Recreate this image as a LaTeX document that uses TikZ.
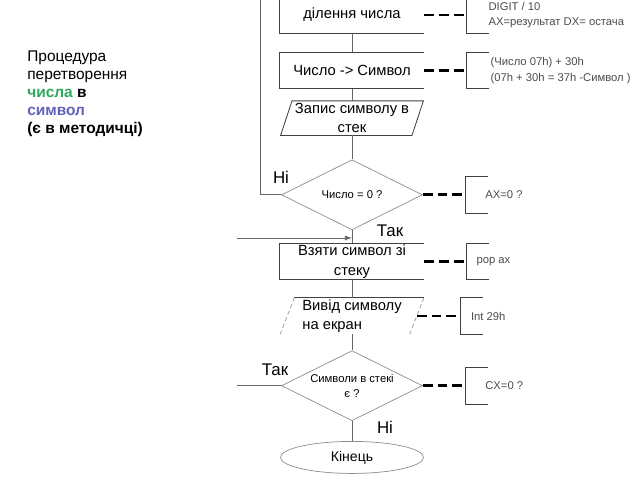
\documentclass[tikz,border=0pt]{standalone}
\usepackage{fontspec}
\setmainfont{Liberation Sans}
\usepackage{xcolor}
\definecolor{numgreen}{RGB}{46,168,92}
\definecolor{symblue}{RGB}{98,98,190}
\usetikzlibrary{positioning,calc,shapes.geometric,arrows.meta}

\begin{document}
\begin{tikzpicture}[x=0.025cm,y=-0.025cm,
	line/.style={draw=black!60,line width=0.5pt},
	frame/.style={draw=black!75,line width=0.6pt},
	blok/.style={minimum width=3.6cm,minimum height=0.9cm,inner sep=0pt,align=center,font=\fontsize{10.5}{14}\selectfont},
	io/.style={trapezium,trapezium left angle=70,trapezium right angle=110,trapezium stretches=true,minimum width=3.575cm,minimum height=0.85cm,inner sep=0pt,align=center,font=\fontsize{10.5}{13.5}\selectfont},
	cond/.style={diamond,aspect=2,draw=black!45,line width=0.5pt,minimum width=3.525cm,minimum height=1.75cm,inner sep=0pt,align=center,font=\fontsize{8}{10.5}\selectfont},
	term/.style={ellipse,draw=black!45,line width=0.5pt,minimum width=3.575cm,minimum height=0.8cm,inner sep=0pt,font=\fontsize{10}{12}\selectfont},
	brk/.style={minimum width=0.55cm,minimum height=0.9cm,inner sep=0pt},
	note/.style={inner sep=0pt,align=left,text=black!70,font=\fontsize{8}{11}\selectfont},
	dashln/.style={line width=2pt,dash pattern=on 7pt off 3.5pt},
	lbl/.style={inner sep=0pt,font=\fontsize{12}{14}\selectfont}]
	\useasboundingbox (0,0) rectangle (640,480);
	%
	\node[anchor=north west,inner sep=0pt,align=left,font=\fontsize{11}{12.8}\selectfont] (title) at (27,51)
		{Процедура\\перетворення\\\textbf{\textcolor{numgreen}{числа} в}\\\textbf{\textcolor{symblue}{символ}}\\\textbf{(є в методичці)}};
	%
	\node[blok] (d1) at (352,15) {ділення числа};
	\node[blok,below=0.475cm of d1] (d2) {Число -> Символ};
	\node[io,below=0.3cm of d2] (d3) {Запис символу в\\стек};
	\node[cond,below=0.6cm of d3] (d4) {Число = 0 ?};
	\node[blok,below=0.325cm of d4] (d5) {Взяти символ зі\\стеку};
	\node[io,align=left,minimum height=0.9cm,below=0.45cm of d5] (d6) {Вивід символу\\на екран};
	\node[cond,below=0.4cm of d6] (d7) {Символи в стекі\\є ?};
	\node[term,below=0.5cm of d7] (d8) {Кінець};
	%
	\node[brk,right=1.05cm of d1] (k1) {};
	\node[brk,right=1.05cm of d2] (k2) {};
	\node[brk,right=1.075cm of d4] (k4) {};
	\node[brk,right=1.05cm of d5] (k5) {};
	\node[brk,right=1.1cm of d6] (k6) {};
	\node[brk,right=1.075cm of d7] (k7) {};
	\node[note,right=0.55cm of k1.west] (t1) {DIGIT / 10\\AX=результат DX= остача};
	\node[note,right=0.6cm of k2.west] (t2) {(Число 07h) + 30h\\(07h + 30h = 37h -Символ )};
	\node[note,right=0.48cm of k4.west] (t4) {AX=0 ?};
	\node[note,right=0.25cm of k5.west] (t5) {pop ax};
	\node[note,right=0.25cm of k6.west] (t6) {Int 29h};
	\node[note,right=0.48cm of k7.west] (t7) {CX=0 ?};
	%
	\node[lbl] (no1) at (281,177) {Ні};
	\node[lbl] (yes1) at (390,231) {Так};
	\node[lbl] (yes2) at (275,370) {Так};
	\node[lbl] (no2) at (385,427) {Ні};
	%
	\coordinate (up) at (260,-10);
	\coordinate (j) at ($(d4.south)!0.6!(d5.north)$);
	\coordinate (enter) at ($(j)+(-115,0)$);
	\coordinate (out) at ($(d7.west)+(-44,0)$);
	%
	\draw[frame] (d1.north east) -| (d1.south west) -- (d1.south east);
	\draw[frame] (d2.north east) -| (d2.south west) -- (d2.south east);
	\draw[frame] (d3.bottom left corner) -- (d3.top left corner) -- (d3.top right corner) -- (d3.bottom right corner) -- cycle;
	\draw[frame] (d5.north east) -| (d5.south west) -- (d5.south east);
	\draw[frame] (d6.top left corner) -- (d6.top right corner);
	\draw[line,draw=black!40,dash pattern=on 3pt off 2pt] (d6.bottom left corner) -- (d6.top left corner);
	\draw[line,draw=black!40,dash pattern=on 3pt off 2pt] (d6.top right corner) -- (d6.bottom right corner);
	\draw[frame] (k1.north east) -| (k1.south west) -- (k1.south east);
	\draw[frame] (k2.north east) -| (k2.south west) -- (k2.south east);
	\draw[frame] (k4.north east) -| (k4.south west) -- (k4.south east);
	\draw[frame] (k5.north east) -| (k5.south west) -- (k5.south east);
	\draw[frame] (k6.north east) -| (k6.south west) -- (k6.south east);
	\draw[frame] (k7.north east) -| (k7.south west) -- (k7.south east);
	%
	\draw[line] (d1.south) -- (d2.north);
	\draw[line] (d2.south) -- (d3.north);
	\draw[line] (d3.south) -- (d4.north);
	\draw[line] (d4.south) -- (d5.north);
	\draw[line] (d5.south) -- (d6.north);
	\draw[line] (d6.south) -- (d7.north);
	\draw[line] (d7.south) -- (d8.north);
	\draw[line] (d4.west) -| (up);
	\draw[line] (d7.west) -- (out);
	\draw[line,-{Latex[length=5pt,width=3.5pt]}] (enter) -- (j);
	%
	\draw[dashln] (d1.east) -- (k1.west);
	\draw[dashln] (d2.east) -- (k2.west);
	\draw[dashln] (d4.east) -- (k4.west);
	\draw[dashln] (d5.east) -- (k5.west);
	\draw[dashln] (d6.east) -- (k6.west);
	\draw[dashln] (d7.east) -- (k7.west);
\end{tikzpicture}
\end{document}
